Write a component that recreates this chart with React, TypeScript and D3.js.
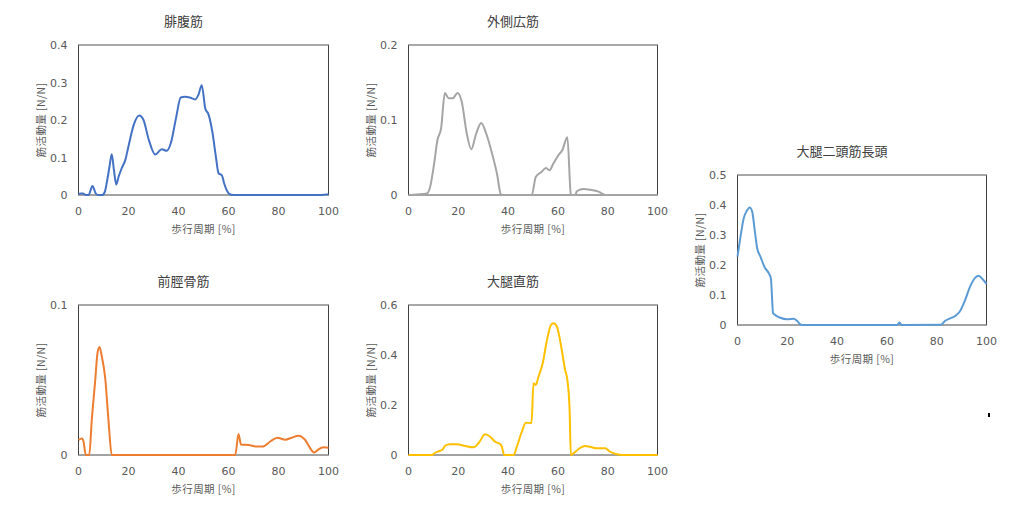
import React from "react";
import * as d3 from "d3";

type Pt = [number, number];

const xTicks = [0, 20, 40, 60, 80, 100];
const xLabel = "歩行周期 [%]";
const yLabel = "筋活動量 [N/N]";

const gastrocTitle = "腓腹筋";
const gastrocTicks = [0, 0.1, 0.2, 0.3, 0.4];
const gastroc: Pt[] = [
  [0, 0.003], [1, 0.004], [1.8, 0.004], [3, 0], [4, 0], [5.6, 0.024], [7, 0.003], [8, 0], [9.5, 0],
  [10.5, 0.008], [11.5, 0.04], [12.5, 0.08], [13.3, 0.109], [14.2, 0.065], [15.1, 0.028], [16, 0.048],
  [17.2, 0.07], [18.7, 0.093], [20, 0.13], [22, 0.185], [24.3, 0.212], [26, 0.2], [28, 0.15],
  [30.7, 0.108], [33.3, 0.122], [35.3, 0.118], [37, 0.14], [39, 0.205], [40.9, 0.26], [42.5, 0.262],
  [44.5, 0.26], [46.7, 0.255], [48, 0.268], [49.3, 0.293], [50.7, 0.231], [52, 0.215], [53.5, 0.17],
  [55, 0.1], [56, 0.058], [57.3, 0.053], [58.3, 0.03], [59.5, 0.01], [60.5, 0.002], [62, 0],
  [97, 0], [98.5, 0.001], [100, 0.002],
];

const vastusTitle = "外側広筋";
const vastusTicks = [0, 0.1, 0.2];
const vastus: Pt[] = [
  [0, 0], [7.4, 0.002], [8.7, 0.011], [10.3, 0.042], [11.6, 0.073], [13.1, 0.089], [14.6, 0.136],
  [16.1, 0.129], [17.8, 0.129], [19.7, 0.136], [21.4, 0.124], [23.4, 0.082], [25.2, 0.061],
  [27.2, 0.082], [29.2, 0.096], [31.2, 0.082], [33.5, 0.056], [35.5, 0.029], [37.1, 0.001],
  [38, 0], [49.5, 0], [51.1, 0.024], [53.5, 0.031], [55.2, 0.036], [56.6, 0.033], [58.2, 0.042],
  [60.2, 0.053], [61.8, 0.06], [63.8, 0.077], [65.2, 0.001], [65.6, 0], [67, 0], [67.6, 0.005],
  [70.3, 0.008], [73, 0.007], [76.3, 0.0045], [78.3, 0.001], [79, 0], [100, 0],
];

const bicepsTitle = "大腿二頭筋長頭";
const bicepsTicks = [0, 0.1, 0.2, 0.3, 0.4, 0.5];
const biceps: Pt[] = [
  [0, 0.228], [1.2, 0.294], [2.5, 0.356], [3.9, 0.383], [4.9, 0.392], [5.9, 0.378], [6.9, 0.317],
  [7.9, 0.256], [9.2, 0.228], [10.8, 0.194], [12.6, 0.172], [13.4, 0.156], [14.3, 0.039],
  [15.2, 0.033], [17.2, 0.024], [19.9, 0.019], [22.6, 0.021], [23.9, 0.014], [25.5, 0.001],
  [26.5, 0], [64, 0], [65.1, 0.008], [65.9, 0], [81.7, 0.001], [83.4, 0.014], [85.4, 0.022],
  [87.4, 0.03], [89.2, 0.044], [91.4, 0.083], [93.4, 0.128], [95.5, 0.158], [96.8, 0.164],
  [98.1, 0.156], [100, 0.137],
];

const tibialisTitle = "前脛骨筋";
const tibialisTicks = [0, 0.1];
const tibialis: Pt[] = [
  [0, 0.01], [1.3, 0.011], [2, 0.009], [2.9, 0], [4.3, 0], [5.3, 0.023], [6.7, 0.05], [7.6, 0.068],
  [8.4, 0.072], [9.3, 0.066], [10.7, 0.051], [12, 0.023], [13.3, 0], [62.7, 0], [64, 0.014],
  [65, 0.007], [68, 0.0067], [71.3, 0.0056], [73.7, 0.0056], [76.7, 0.009], [79.6, 0.0115],
  [82.7, 0.0102], [85.3, 0.0115], [88, 0.0129], [90.7, 0.01], [92.7, 0.0044], [94.3, 0.0016],
  [96, 0.0038], [98, 0.0051], [100, 0.0049],
];

const rectusTitle = "大腿直筋";
const rectusTicks = [0, 0.2, 0.4, 0.6];
const rectus: Pt[] = [
  [0, 0], [9.4, 0], [10.7, 0.009], [12.7, 0.017], [13.8, 0.023], [14.7, 0.037], [16.7, 0.043],
  [19.4, 0.043], [22.8, 0.036], [26.1, 0.031], [28.1, 0.047], [30.8, 0.083], [32.8, 0.073],
  [34.8, 0.053], [36.8, 0.044], [37.5, 0.033], [38.4, 0], [42.2, 0], [43.5, 0.033], [45.5, 0.093],
  [47.1, 0.129], [49.4, 0.128], [50.2, 0.287], [51.1, 0.28], [52.2, 0.313], [53.9, 0.367],
  [55.6, 0.46], [57.2, 0.52], [58.2, 0.527], [59.6, 0.513], [60.6, 0.473], [62, 0.393],
  [62.9, 0.34], [63.8, 0.3], [64.7, 0.18], [65.2, 0], [66.3, 0.007], [68.3, 0.024], [70.9, 0.036],
  [72.9, 0.033], [75.6, 0.027], [79, 0.027], [81, 0.013], [83.7, 0.003], [85.7, 0], [100, 0],
];

const FONT = "'Noto Sans CJK JP', 'DejaVu Sans', sans-serif";
const TICKFONT = "'DejaVu Sans', Verdana, sans-serif";

interface PanelProps {
  title: string;
  left: number;
  top: number;
  width: number;
  height: number;
  yTicks: number[];
  data: Pt[];
  color: string;
}

function Panel({ title, left, top, width, height, yTicks, data, color }: PanelProps) {
  const x = d3.scaleLinear().domain([0, 100]).range([left, left + width]);
  const yMax = yTicks[yTicks.length - 1];
  const y = d3.scaleLinear().domain([0, yMax]).range([top + height, top]);
  const line = d3
    .line<Pt>()
    .x((d) => x(d[0]))
    .y((d) => y(d[1]))
    .curve(d3.curveMonotoneX);
  const fmt = (v: number) => (v === 0 ? "0" : d3.format(".1f")(v));
  const cx = left + width / 2;
  return (
    <g>
      <text x={cx - 20} y={top - 19} textAnchor="middle" fontFamily={FONT} fontSize={13} fill="#404040">
        {title}
      </text>
      <rect x={left} y={top} width={width} height={height} fill="none" stroke="#404040" strokeWidth={1} />
      <line x1={left} x2={left + width} y1={top} y2={top} stroke="#b0b0b0" strokeWidth={1} />
      <line x1={left} x2={left + width} y1={top + height} y2={top + height} stroke="#a6a6a6" strokeWidth={1} />
      {yTicks.map((t) => (
        <text key={t} x={left - 11} y={y(t) + 4} textAnchor="end" fontFamily={TICKFONT} fontSize={11} fill="#595959">
          {fmt(t)}
        </text>
      ))}
      {xTicks.map((t) => (
        <text key={t} x={x(t)} y={top + height + 20} textAnchor="middle" fontFamily={TICKFONT} fontSize={11} fill="#595959">
          {t}
        </text>
      ))}
      <text x={cx} y={top + height + 38} textAnchor="middle" fontFamily={FONT} fontSize={10.5} letterSpacing={0.4} fill="#595959">
        {xLabel}
      </text>
      <text
        transform={`translate(${left - 36},${top + height / 2}) rotate(-90)`}
        textAnchor="middle"
        dominantBaseline="middle"
        fontFamily={FONT}
        fontSize={10.5}
        letterSpacing={0.4}
        fill="#595959"
      >
        {yLabel}
      </text>
      <path d={line(data) || ""} fill="none" stroke={color} strokeWidth={2} strokeLinejoin="round" />
    </g>
  );
}

export default function App() {
  return (
    <svg
      width={1024}
      height={510}
      style={{ position: "absolute", left: 0, top: 0, background: "#fff" }}
    >
      <rect x={0} y={0} width={1024} height={510} fill="#fff" />
      <Panel title={gastrocTitle} left={78.5} top={45} width={250} height={150} yTicks={gastrocTicks} data={gastroc} color="#4472C4" />
      <Panel title={vastusTitle} left={408.5} top={45} width={249} height={150} yTicks={vastusTicks} data={vastus} color="#A5A5A5" />
      <Panel title={bicepsTitle} left={737.5} top={175} width={249} height={150} yTicks={bicepsTicks} data={biceps} color="#5B9BD5" />
      <Panel title={tibialisTitle} left={78.5} top={305} width={250} height={150} yTicks={tibialisTicks} data={tibialis} color="#ED7D31" />
      <Panel title={rectusTitle} left={408.5} top={305} width={249} height={150} yTicks={rectusTicks} data={rectus} color="#FFC000" />
      <rect x={988} y={413} width={2} height={4} fill="#000" />
    </svg>
  );
}
